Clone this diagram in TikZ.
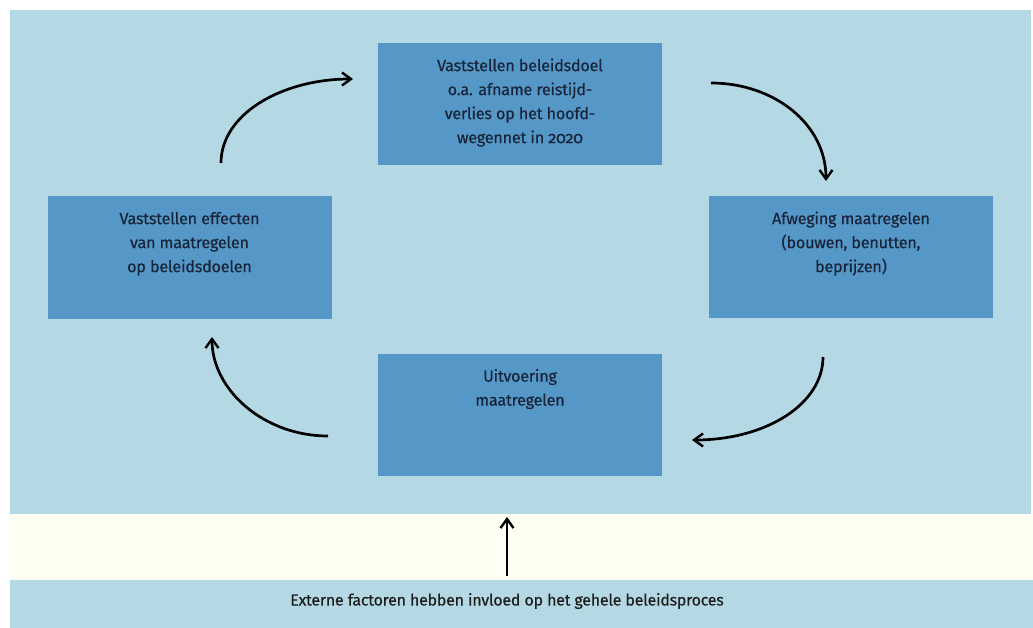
\documentclass[tikz,border=0pt]{standalone}
\usepackage{fontspec}
\setmainfont{Fira Sans}[Numbers=OldStyle, FakeBold=0.35, LetterSpace=-1.5]
\usetikzlibrary{arrows.meta}

\definecolor{panelblue}{RGB}{180,217,228}
\definecolor{boxblue}{RGB}{85,152,199}
\definecolor{creamband}{RGB}{255,254,243}
\definecolor{navytext}{RGB}{24,36,58}
\definecolor{darktext}{RGB}{30,30,30}

% text of a stage box: top aligned inside the fixed box
\newcommand\stagetext[1]{\parbox[c][122pt][t]{284pt}{\centering
  \fontsize{16.2}{24}\selectfont\vspace*{15.5pt}#1\par}}

\tikzset{
  stagebox/.style={fill=boxblue, inner sep=0pt, text=navytext,
    minimum width=284pt, minimum height=122pt},
  flow/.style={line width=2.7pt, draw=black,
    -{Straight Barb[length=9pt,width=13pt,line width=2.4pt]}},
}

\begin{document}
\begin{tikzpicture}[x=1pt,y=-1pt]
  \useasboundingbox (0,0) rectangle (1033,628);
  \fill[white] (0,0) rectangle (1033,628);

  % background bands
  \fill[panelblue] (10,10) rectangle (1031,514);
  \fill[creamband] (10,514) rectangle (1033,580);
  \fill[panelblue] (10,580) rectangle (1033,628);

  % the four stages of the policy cycle
  \node[stagebox] (goal) at (520,104) {\stagetext{Vaststellen beleidsdoel\\
    o.a. afname reistijd-\\verlies op het hoofd-\\wegennet in 2020}};
  \node[stagebox] (weigh) at (851,257) {\stagetext{Afweging maatregelen\\
    (bouwen, benutten,\\beprijzen)}};
  \node[stagebox] (exec) at (520,414.5) {\stagetext{Uitvoering\\maatregelen}};
  \node[stagebox] (effect) at (189.5,257.5) {\stagetext{Vaststellen effecten\\
    van maatregelen\\op beleidsdoelen}};

  % external factors
  \node[text=darktext, font=\fontsize{16}{18}\selectfont, inner sep=0pt]
    (ext) at (507,601) {Externe factoren hebben invloed op het gehele beleidsproces};

  % arrow end points
  \coordinate (a1s) at (221,163);  \coordinate (a1e) at (353,79);
  \coordinate (a2s) at (711,83);   \coordinate (a2e) at (826,181);
  \coordinate (a3s) at (823,357);  \coordinate (a3e) at (692,440);
  \coordinate (a4s) at (328,436);  \coordinate (a4e) at (212,337);
  \coordinate (a5s) at (507,576);  \coordinate (a5e) at (507,517);

  \draw[flow] (a1s) .. controls (221,114) and (282,79) .. (a1e);
  \draw[flow] (a2s) .. controls (774,83) and (826,124) .. (a2e);
  \draw[flow] (a3s) .. controls (823,404) and (766,440) .. (a3e);
  \draw[flow] (a4s) .. controls (264,436) and (212,390) .. (a4e);
  \draw[flow] (a5s) -- (a5e);
\end{tikzpicture}
\end{document}
